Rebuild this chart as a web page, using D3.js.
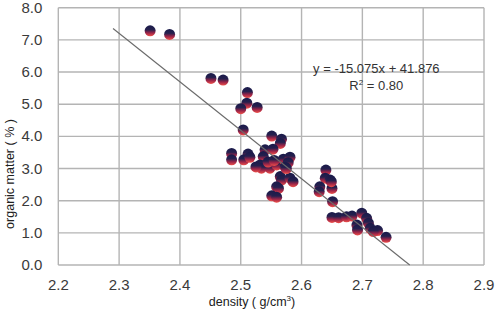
<!DOCTYPE html>
<html>
<head>
<meta charset="utf-8">
<script src="https://cdn.jsdelivr.net/npm/d3@7"></script>
<style>
  body { margin: 0; background: #fff; }
  svg { display: block; font-family: "Liberation Sans", Arial, sans-serif; }
  .grid line { stroke: #b4b4b4; stroke-width: 1.4; }
  .tick-label { fill: #3a3a3a; font-size: 15px; }
  .axis-title { fill: #202020; font-size: 12.5px; }
  .eq { fill: #333; font-size: 13px; }
</style>
</head>
<body>
<div id="chart"></div>
<script>
// density (g/cm3) vs organic matter (%)
const densities = [
  2.351, 2.383, 2.451, 2.471, 2.511, 2.510, 2.500, 2.527, 2.504,
  2.551, 2.567, 2.565, 2.540, 2.553, 2.485, 2.485, 2.512, 2.505,
  2.537, 2.532, 2.534, 2.548, 2.559, 2.570, 2.581, 2.578, 2.573,
  2.565, 2.567, 2.581, 2.586, 2.559, 2.562, 2.551, 2.559, 2.545,
  2.515, 2.525, 2.555, 2.575,
  2.640, 2.639, 2.647, 2.630, 2.629, 2.650, 2.649, 2.651,
  2.650, 2.661, 2.674, 2.683, 2.699, 2.707, 2.710, 2.691, 2.692,
  2.713, 2.725, 2.718, 2.739
];
const organic = [
  7.28, 7.17, 5.80, 5.75, 5.36, 5.03, 4.86, 4.90, 4.20,
  4.01, 3.91, 3.78, 3.58, 3.60, 3.47, 3.27, 3.45, 3.27,
  3.37, 3.11, 3.01, 3.01, 3.11, 3.29, 3.35, 3.18, 3.04,
  2.75, 2.64, 2.70, 2.59, 2.43, 2.38, 2.15, 2.11, 3.20,
  3.35, 3.05, 3.25, 3.00,
  2.95, 2.70, 2.64, 2.43, 2.28, 2.38, 2.59, 1.97,
  1.48, 1.47, 1.50, 1.52, 1.61, 1.45, 1.30, 1.24, 1.09,
  1.14, 1.07, 1.04, 0.86
];
const xTicks = [2.2, 2.3, 2.4, 2.5, 2.6, 2.7, 2.8, 2.9];
const yTicks = [0, 1, 2, 3, 4, 5, 6, 7, 8];
const slope = -15.075, intercept = 41.876;
const fitStart = 2.29;
const eqText = "y = -15.075x + 41.876";
const r2Text = "0.80";

const W = 498, H = 313;
const margin = { top: 7.7, right: 14, bottom: 48, left: 58.3 };
const plotW = W - margin.left - margin.right;
const plotH = H - margin.top - margin.bottom;

const svg = d3.select("#chart").append("svg")
  .attr("width", W).attr("height", H);

// marker gradient (dark navy top, red bottom)
const grad = svg.append("defs").append("linearGradient")
  .attr("id", "ball").attr("x1", 0).attr("y1", 0).attr("x2", 0).attr("y2", 1);
grad.append("stop").attr("offset", "0%").attr("stop-color", "#191a4a");
grad.append("stop").attr("offset", "40%").attr("stop-color", "#25204e");
grad.append("stop").attr("offset", "68%").attr("stop-color", "#9a2448");
grad.append("stop").attr("offset", "100%").attr("stop-color", "#f0504a");

const x = d3.scaleLinear().domain([2.2, 2.9]).range([0, plotW]);
const y = d3.scaleLinear().domain([0, 8]).range([plotH, 0]);

const g = svg.append("g").attr("transform", `translate(${margin.left},${margin.top})`);

// gridlines
const grid = g.append("g").attr("class", "grid");
grid.selectAll(".gx").data(xTicks).join("line")
  .attr("x1", d => x(d)).attr("x2", d => x(d))
  .attr("y1", 0).attr("y2", plotH);
grid.selectAll(".gy").data(yTicks).join("line")
  .attr("x1", 0).attr("x2", plotW)
  .attr("y1", d => y(d)).attr("y2", d => y(d));

// tick labels
g.selectAll(".xl").data(xTicks).join("text")
  .attr("class", "tick-label")
  .attr("x", d => x(d)).attr("y", plotH + 25)
  .attr("text-anchor", "middle")
  .text(d => d.toFixed(1));
g.selectAll(".yl").data(yTicks).join("text")
  .attr("class", "tick-label")
  .attr("x", -16).attr("y", d => y(d) + 5)
  .attr("text-anchor", "end")
  .text(d => d.toFixed(1));

// points
const pts = densities.map((d, i) => ({ d, o: organic[i] }));
g.selectAll("circle").data(pts).join("circle")
  .attr("cx", p => x(p.d)).attr("cy", p => y(p.o))
  .attr("r", 5.5)
  .attr("fill", "url(#ball)");

// trend line
const fitEnd = -intercept / slope;
g.append("line")
  .attr("x1", x(fitStart)).attr("y1", y(slope * fitStart + intercept))
  .attr("x2", x(fitEnd)).attr("y2", y(0))
  .attr("stroke", "#6a6a6a").attr("stroke-width", 1.1);

// equation
g.append("text").attr("class", "eq")
  .attr("x", x(2.723)).attr("y", y(6.0) + 1)
  .attr("text-anchor", "middle")
  .text(eqText);
const r2 = g.append("text").attr("class", "eq")
  .attr("x", x(2.723)).attr("y", y(5.5) + 2)
  .attr("text-anchor", "middle");
r2.append("tspan").text("R");
r2.append("tspan").attr("dy", -5).attr("font-size", "8px").text("2");
r2.append("tspan").attr("dy", 5).text(" = " + r2Text);

// axis titles
const xt = svg.append("text").attr("class", "axis-title")
  .attr("x", 252).attr("y", 306)
  .attr("text-anchor", "middle");
xt.append("tspan").text("density ( g/cm");
xt.append("tspan").attr("dy", -5).attr("font-size", "8px").text("3");
xt.append("tspan").attr("dy", 5).text(")");

svg.append("text").attr("class", "axis-title")
  .attr("transform", "translate(14,174) rotate(-90)")
  .attr("text-anchor", "middle")
  .text("organic matter ( % )");
</script>
</body>
</html>
